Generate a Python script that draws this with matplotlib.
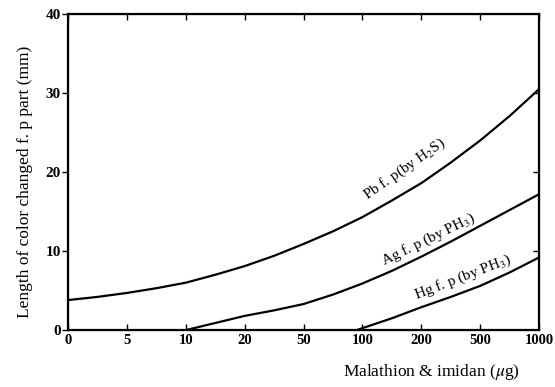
import numpy as np
import matplotlib
matplotlib.use("Agg")
import matplotlib.pyplot as plt

plt.rcParams['font.family'] = ['Liberation Serif', 'DejaVu Serif']
plt.rcParams['mathtext.fontset'] = 'stix'

# x axis: doses (ug), drawn evenly spaced by tick index
dose_labels = ['0', '5', '10', '20', '50', '100', '200', '500', '1000']

# curve readings: x in tick-index units, y in mm
pb_x = [0, 0.5, 1, 1.5, 2, 2.5, 3, 3.5, 4, 4.5, 5, 5.5, 6, 6.5, 7, 7.5, 8]
pb_y = [3.8, 4.2, 4.7, 5.3, 6.0, 7.0, 8.1, 9.4, 10.9, 12.5, 14.3, 16.4, 18.6, 21.2, 24.0, 27.1, 30.5]

ag_x = [2, 2.5, 3, 3.5, 4, 4.5, 5, 5.5, 6, 6.5, 7, 7.5, 8]
ag_y = [0.0, 0.9, 1.8, 2.5, 3.3, 4.5, 5.9, 7.5, 9.3, 11.2, 13.2, 15.2, 17.2]

hg_x = [4.9, 5.5, 6, 6.5, 7, 7.5, 8]
hg_y = [0.0, 1.5, 2.9, 4.2, 5.6, 7.3, 9.2]

y_ticks = [0, 10, 20, 30, 40]

fig = plt.figure(figsize=(5.55, 3.87), dpi=100)
ax = fig.add_axes([0.1225, 0.147, 0.849, 0.817])

for xs, ys in [(pb_x, pb_y), (ag_x, ag_y), (hg_x, hg_y)]:
    ax.plot(xs, ys, color='black', lw=1.6)

ax.set_xlim(0, len(dose_labels) - 1)
ax.set_ylim(0, 40)
ax.set_xticks(np.arange(len(dose_labels)))
ax.set_xticklabels(dose_labels, fontsize=10.5, fontweight='bold')
ax.set_yticks(y_ticks)
ax.set_yticklabels([str(t) for t in y_ticks], fontsize=11, fontweight='bold')
ax.tick_params(axis='x', direction='in', length=4, width=1, top=True, pad=3)
ax.tick_params(axis='y', direction='out', length=4, width=1, pad=1)
for s in ax.spines.values():
    s.set_linewidth(1.6)

# right side inner ticks
ax2 = ax.twinx()
ax2.set_ylim(0, 40)
ax2.set_yticks([10, 20, 30])
ax2.tick_params(axis='y', direction='in', length=4, width=1, labelright=False)

ax.text(5.72, 20.4, 'Pb f. p(by H$_2$S)', rotation=35, ha='center', va='center', fontsize=11)
ax.text(6.12, 11.5, 'Ag f. p (by PH$_3$)', rotation=26, ha='center', va='center', fontsize=11)
ax.text(6.7, 6.6, 'Hg f. p (by PH$_3$)', rotation=21, ha='center', va='center', fontsize=11)

fig.text(0.778, 0.039, 'Malathion & imidan ($\\mu$g)', ha='center', va='center', fontsize=12.5)
fig.text(0.045, 0.53, 'Length of color changed f. p part (mm)', rotation=90,
         ha='center', va='center', fontsize=12.5)

fig.savefig('out.png', dpi=100)
